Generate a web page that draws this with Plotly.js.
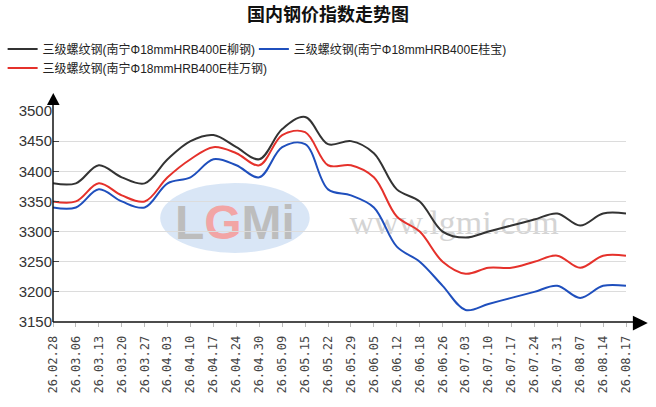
<!DOCTYPE html>
<html>
<head>
<meta charset="utf-8">
<script src="https://cdn.plot.ly/plotly-3.0.1.min.js"></script>
<style>html,body{margin:0;padding:0;background:#fff;}#chart{width:656px;height:407px;}</style>
</head>
<body>
<div id="chart"></div>
<script>
var dates = ['26.02.28','26.03.06','26.03.13','26.03.20','26.03.27','26.04.03','26.04.10','26.04.17','26.04.24','26.04.30','26.05.09','26.05.15','26.05.22','26.05.29','26.06.05','26.06.12','26.06.18','26.06.26','26.07.03','26.07.10','26.07.17','26.07.24','26.07.31','26.08.07','26.08.14','26.08.17'];
var liugang = [3380,3380,3410,3390,3380,3420,3450,3460,3440,3420,3470,3490,3445,3450,3430,3370,3350,3300,3290,3300,3310,3320,3330,3310,3330,3330];
var guibao  = [3340,3340,3370,3350,3340,3380,3390,3420,3410,3390,3440,3445,3370,3360,3340,3275,3250,3210,3170,3180,3190,3200,3210,3190,3210,3210];
var guiwan  = [3350,3350,3380,3360,3350,3390,3420,3440,3430,3410,3460,3465,3410,3410,3390,3325,3300,3250,3230,3240,3240,3250,3260,3240,3260,3260];
var names = ['三级螺纹钢(南宁Φ18mmHRB400E柳钢)','三级螺纹钢(南宁Φ18mmHRB400E桂宝)','三级螺纹钢(南宁Φ18mmHRB400E桂万钢)'];
var yTicks = [3150,3200,3250,3300,3350,3400,3450,3500];

function tr(y, name, color, leg) {
  return {x: dates, y: y, name: name, type: 'scatter', mode: 'lines', legend: leg,
    line: {color: color, width: 2, shape: 'spline', smoothing: 1}, hoverinfo: 'none'};
}
var data = [tr(liugang, names[0], '#333333', 'legend'), tr(guibao, names[1], '#1f4fbd', 'legend2'), tr(guiwan, names[2], '#e5312b', 'legend')];

var legFont = {family: 'Liberation Sans, Noto Sans CJK SC', size: 12, color: '#222'};
var layout = {
  width: 656, height: 407,
  margin: {l: 53, r: 30, t: 111, b: 85},
  paper_bgcolor: '#fff', plot_bgcolor: '#fff',
  font: {family: 'Liberation Sans, Arial, sans-serif', color: '#333'},
  title: {text: '<b>国内钢价指数走势图</b>', font: {family: 'Noto Sans CJK SC', size: 18, color: '#111'},
    x: 0.5, xanchor: 'center', y: 0.963, yanchor: 'middle', xref: 'container', yref: 'container'},
  showlegend: true,
  legend: {orientation: 'h', x: 0.004, xref: 'container', y: 0.915, yref: 'container', xanchor: 'left', yanchor: 'top',
    font: legFont, entrywidth: 290, entrywidthmode: 'pixels', bgcolor: 'rgba(0,0,0,0)', tracegroupgap: 0, itemclick: false},
  legend2: {orientation: 'h', x: 0.387, xref: 'container', y: 0.915, yref: 'container', xanchor: 'left', yanchor: 'top',
    font: legFont, bgcolor: 'rgba(0,0,0,0)', tracegroupgap: 0, itemclick: false},
  xaxis: {type: 'category', range: [0, dates.length - 1], showgrid: false, zeroline: false, showline: false,
    ticks: 'outside', ticklen: 4, tickcolor: '#bbb', tickangle: -90,
    tickfont: {family: 'DejaVu Sans Mono', size: 12, color: '#444'}, ticklabelstandoff: 4, fixedrange: true},
  yaxis: {range: [3150, 3500], tickvals: yTicks, ticktext: yTicks.map(String), showgrid: true, gridcolor: '#dcdcdc', gridwidth: 1,
    zeroline: false, showline: false, ticks: 'inside', ticklen: 6, tickcolor: '#444',
    tickfont: {family: 'Liberation Sans, Arial', size: 15, color: '#333'}, fixedrange: true},
  shapes: [
    {type: 'circle', xref: 'paper', yref: 'paper', x0: 0.187, x1: 0.448, y0: 0.327, y1: 0.659,
      fillcolor: 'rgba(170,200,235,0.45)', line: {width: 0}, layer: 'below'},
    {type: 'rect', xref: 'paper', yref: 'paper', x0: 0.187, x1: 0.448, y0: 0.33, y1: 0.66,
      fillcolor: 'rgba(0,0,0,0)', line: {width: 0}, layer: 'below',
      label: {text: '<b>L<span style="color:#f2a5a5">G</span>Mi</b>', textposition: 'middle center',
        font: {family: 'Liberation Sans, Arial', size: 48, color: '#bdbdbd'}}},
    {type: 'rect', xref: 'paper', yref: 'paper', x0: 0.5, x1: 0.9, y0: 0.40, y1: 0.58,
      fillcolor: 'rgba(0,0,0,0)', line: {width: 0}, layer: 'below',
      label: {text: 'www.lgmi.com', textposition: 'middle center',
        font: {family: 'Liberation Serif, Times New Roman, serif', size: 34, color: '#d4d4d4'}}},
    {type: 'line', xref: 'paper', yref: 'paper', x0: 0, x1: 1.016, y0: 0, y1: 0, line: {color: '#111', width: 1.5}},
    {type: 'line', xref: 'paper', yref: 'paper', x0: 0, x1: 0, y0: 0, y1: 1.04, line: {color: '#111', width: 1.5}},
    {type: 'path', xref: 'paper', yref: 'paper', path: 'M 1.012 0.03 L 1.038 -0.005 L 1.012 -0.04 Z', fillcolor: '#000', line: {width: 0}},
    {type: 'path', xref: 'paper', yref: 'paper', path: 'M -0.0105 1.028 L 0.0005 1.085 L 0.0115 1.028 Z', fillcolor: '#000', line: {width: 0}}
  ]
};
Plotly.newPlot('chart', data, layout, {displayModeBar: false, staticPlot: true});
</script>
</body>
</html>
